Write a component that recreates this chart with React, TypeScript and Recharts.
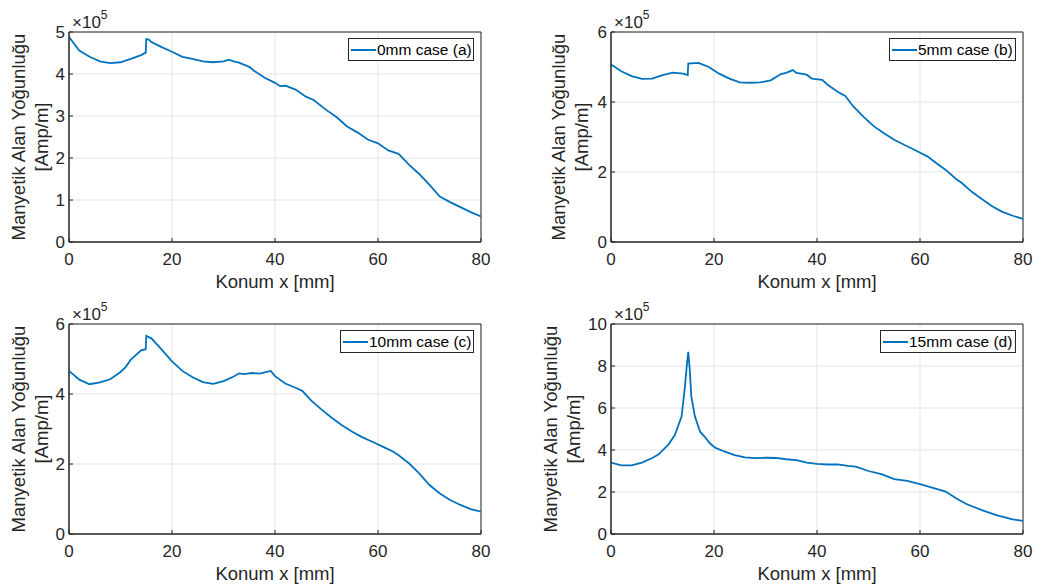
import React from 'react';
import { LineChart, Line, XAxis, YAxis, CartesianGrid, Legend, ReferenceArea } from 'recharts';

const FONT = '"Liberation Sans", Arial, Helvetica, sans-serif';
const BLUE = '#0072BD';
const AX = '#262626';
const GRID = '#e3e3e3';

const xTicks = [0, 20, 40, 60, 80];
const yTicksA = [0, 1, 2, 3, 4, 5];
const yTicksB = [0, 2, 4, 6];
const yTicksC = [0, 2, 4, 6];
const yTicksD = [0, 2, 4, 6, 8, 10];

const xLabel = 'Konum x [mm]';
const yLabel1 = 'Manyetik Alan Yoğunluğu';
const yLabel2 = '[Amp/m]';

// values in units of x10^5 Amp/m
const xA = [0, 2, 4, 6, 8, 10, 12, 14, 14.9, 15, 15.5, 16, 18, 20, 22, 24, 26, 28, 30, 31, 32, 33, 35, 36, 38, 40, 41, 42, 44, 46, 47.5, 50, 52, 54, 56, 58, 60, 62, 64, 66, 68, 70, 72, 74, 76, 78, 80];
const yA = [4.88, 4.56, 4.41, 4.30, 4.26, 4.28, 4.36, 4.45, 4.51, 4.83, 4.82, 4.76, 4.64, 4.53, 4.41, 4.36, 4.30, 4.28, 4.30, 4.34, 4.30, 4.27, 4.17, 4.07, 3.91, 3.79, 3.71, 3.72, 3.63, 3.46, 3.38, 3.14, 2.97, 2.75, 2.61, 2.44, 2.35, 2.18, 2.10, 1.84, 1.62, 1.36, 1.08, 0.95, 0.83, 0.71, 0.61];

const xB = [0, 2, 4, 6, 8, 10, 12, 14, 14.9, 15, 17, 19, 21, 23, 25, 27, 29, 31, 33, 34, 35.3, 36, 38, 39, 41, 42, 44, 45.5, 47, 49, 51, 53, 55, 57, 59, 61.5, 63, 65, 67, 68, 70, 72, 74, 76, 78, 80];
const yB = [5.07, 4.88, 4.74, 4.66, 4.67, 4.77, 4.84, 4.81, 4.77, 5.10, 5.12, 5.00, 4.81, 4.67, 4.56, 4.55, 4.56, 4.62, 4.80, 4.83, 4.91, 4.83, 4.78, 4.67, 4.63, 4.50, 4.29, 4.17, 3.88, 3.58, 3.31, 3.11, 2.92, 2.77, 2.63, 2.44, 2.27, 2.06, 1.80, 1.70, 1.44, 1.23, 1.02, 0.86, 0.75, 0.66];

const xC = [0, 2, 4, 6, 8, 10, 11, 12, 14, 14.9, 15, 16, 18, 20, 22, 24, 26, 28, 30, 32, 33, 34, 35.5, 37, 39.2, 40, 42, 44, 45.3, 47, 49, 51, 53, 55, 57, 59, 61, 63, 64, 66, 68, 70, 72, 74, 76, 78, 80];
const yC = [4.66, 4.41, 4.28, 4.33, 4.42, 4.63, 4.77, 4.98, 5.25, 5.28, 5.66, 5.59, 5.27, 4.93, 4.66, 4.48, 4.34, 4.29, 4.37, 4.50, 4.59, 4.57, 4.60, 4.58, 4.66, 4.51, 4.30, 4.18, 4.09, 3.82, 3.56, 3.32, 3.11, 2.92, 2.76, 2.63, 2.49, 2.35, 2.25, 2.02, 1.73, 1.40, 1.16, 0.97, 0.83, 0.71, 0.64];

const xD = [0, 2, 4, 6, 8, 9.2, 11.1, 12.4, 13.7, 14.35, 14.7, 15, 15.3, 15.6, 16.3, 17.3, 18.2, 19.2, 20.2, 22, 24, 26, 28, 30, 32, 34, 36, 38, 40, 42, 44, 46, 47.5, 50, 52.5, 55, 57.5, 60, 62, 65, 67, 69, 72, 75, 78, 80];
const yD = [3.40, 3.27, 3.27, 3.40, 3.62, 3.78, 4.24, 4.71, 5.59, 7.0, 7.97, 8.68, 7.8, 6.54, 5.59, 4.87, 4.63, 4.32, 4.11, 3.93, 3.76, 3.65, 3.61, 3.63, 3.62, 3.56, 3.52, 3.40, 3.34, 3.31, 3.32, 3.24, 3.21, 3.00, 2.85, 2.61, 2.53, 2.38, 2.23, 2.02, 1.70, 1.43, 1.14, 0.89, 0.70, 0.62];

const PH = 292;
const PLOT_W = 412;
const YAXIS_W = 30;

type PanelProps = {
  left: number;
  top: number;
  padL: number;
  chartW: number;
  xs: number[];
  ys: number[];
  yMax: number;
  yTicks: number[];
  name: string;
  legendWidth: number;
  labelShift: number;
};

function EmptyTick() {
  return <g />;
}

function Panel({ left, top, padL, chartW, xs, ys, yMax, yTicks, name, legendWidth, labelShift }: PanelProps) {
  const data = xs.map((x, i) => ({ x, y: ys[i] }));
  const tickStyle = { fill: AX, fontSize: 17, fontFamily: FONT };
  const mLeft = 39 + padL;
  const mRight = chartW - mLeft - YAXIS_W - PLOT_W;

  const yLabelContent = (props: any) => {
    const vb = props.viewBox || { x: mLeft, y: 32, width: YAXIS_W, height: 210 };
    const cy = vb.y + vb.height / 2;
    const b1 = 24.5 + labelShift + padL;
    const b2 = 48 + labelShift + padL;
    return (
      <g>
        <text x={b1} y={cy} transform={`rotate(-90, ${b1}, ${cy})`} textAnchor="middle"
          fill={AX} fontSize={18.5} fontFamily={FONT}>{yLabel1}</text>
        <text x={b2} y={cy} transform={`rotate(-90, ${b2}, ${cy})`} textAnchor="middle"
          fill={AX} fontSize={18.5} fontFamily={FONT}>{yLabel2}</text>
        <text x={72 + padL} y={28} fill={AX} fontSize={17} fontFamily={FONT}>
          ×10<tspan dy={-9} fontSize={12}>5</tspan>
        </text>
      </g>
    );
  };

  const xLabelContent = (props: any) => {
    const vb = props.viewBox || { x: mLeft + YAXIS_W, y: 242, width: PLOT_W, height: 30 };
    return (
      <text x={vb.x + vb.width / 2} y={vb.y + 46} textAnchor="middle" fill={AX}
        fontSize={18.5} fontFamily={FONT}>{xLabel}</text>
    );
  };

  const legendContent = () => (
    <div style={{
      boxSizing: 'border-box', width: legendWidth, height: 23, border: `1px solid ${AX}`,
      background: '#fff', display: 'flex', alignItems: 'center', paddingLeft: 2,
      fontFamily: FONT, fontSize: 15.5, color: '#000', whiteSpace: 'nowrap',
    }}>
      <span style={{ display: 'inline-block', width: 25, height: 2, background: BLUE, marginRight: 1 }} />
      <span>{name}</span>
    </div>
  );

  const plotRight = mLeft + YAXIS_W + PLOT_W;

  return (
    <div style={{ position: 'absolute', left, top, width: chartW, height: PH }}>
      <LineChart width={chartW} height={PH} data={data} margin={{ top: 32, right: mRight, bottom: 20, left: mLeft }}>
        <CartesianGrid stroke={GRID} strokeWidth={1} />
        <XAxis dataKey="x" type="number" domain={[0, 80]} ticks={xTicks} allowDataOverflow
          height={30} tick={tickStyle} tickSize={-4} tickMargin={15}
          tickLine={{ stroke: AX }} axisLine={{ stroke: AX }}
          label={{ content: xLabelContent }} />
        <XAxis xAxisId="top" orientation="top" dataKey="x" type="number" domain={[0, 80]} ticks={xTicks}
          allowDataOverflow height={0} tick={<EmptyTick />} tickSize={-4} tickMargin={0}
          tickLine={{ stroke: AX }} axisLine={false} />
        <YAxis type="number" domain={[0, yMax]} ticks={yTicks} allowDataOverflow
          width={YAXIS_W} tick={tickStyle} tickSize={-4} tickMargin={8}
          tickLine={{ stroke: AX }} axisLine={{ stroke: AX }}
          label={{ content: yLabelContent }} />
        <YAxis yAxisId="right" orientation="right" type="number" domain={[0, yMax]} ticks={yTicks}
          allowDataOverflow width={0} tick={<EmptyTick />} tickSize={-4} tickMargin={0}
          tickLine={{ stroke: AX }} axisLine={false} />
        <ReferenceArea x1={0} x2={80} y1={0} y2={yMax} fill="none" fillOpacity={0}
          stroke={AX} strokeWidth={1} strokeOpacity={1} />
        <Legend layout="vertical" align="center" verticalAlign="middle" content={legendContent}
          wrapperStyle={{ left: plotRight - 7 - legendWidth, top: 38, width: legendWidth, height: 23, margin: 0 }} />
        <Line type="linear" dataKey="y" name={name} stroke={BLUE} strokeWidth={1.8}
          dot={false} activeDot={false} isAnimationActive={false} />
      </LineChart>
    </div>
  );
}

export default function App() {
  return (
    <div style={{ position: 'absolute', left: 0, top: 0, width: 1038, height: 588, background: '#fff', overflow: 'hidden' }}>
      <Panel left={0} top={0} padL={0} chartW={500} xs={xA} ys={yA} yMax={5} yTicks={yTicksA} name="0mm case (a)" legendWidth={126} labelShift={0} />
      <Panel left={530} top={0} padL={12} chartW={508} xs={xB} ys={yB} yMax={6} yTicks={yTicksB} name="5mm case (b)" legendWidth={127} labelShift={-2} />
      <Panel left={0} top={292} padL={0} chartW={500} xs={xC} ys={yC} yMax={6} yTicks={yTicksC} name="10mm case (c)" legendWidth={134} labelShift={0} />
      <Panel left={530} top={292} padL={12} chartW={508} xs={xD} ys={yD} yMax={10} yTicks={yTicksD} name="15mm case (d)" legendWidth={136} labelShift={-10} />
    </div>
  );
}
